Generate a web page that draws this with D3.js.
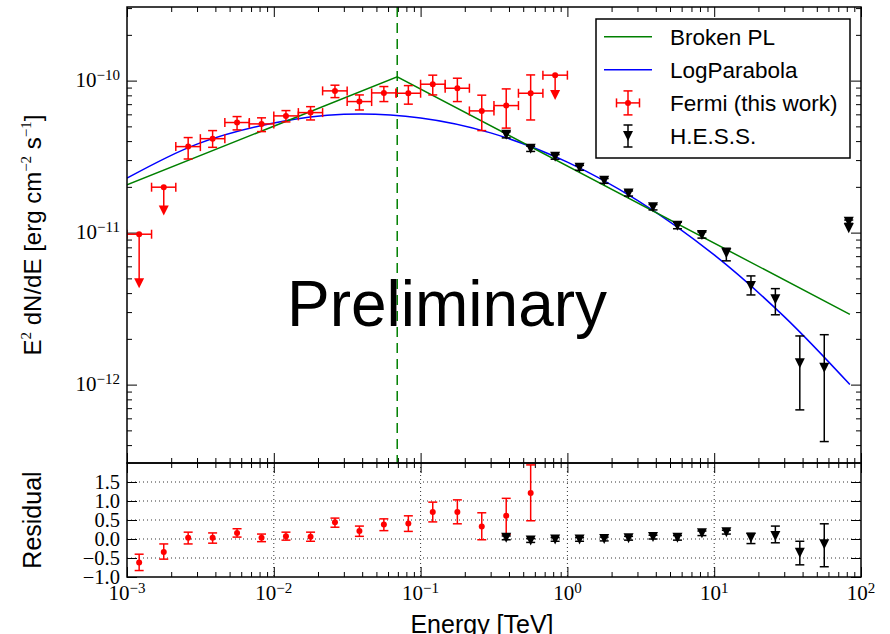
<!DOCTYPE html>
<html>
<head>
<meta charset="utf-8">
<script src="https://cdn.jsdelivr.net/npm/d3@7"></script>
<style>
  body { margin: 0; background: #fff; }
  svg { display: block; }
  .tick line { stroke: #000; stroke-width: 1; }
</style>
</head>
<body>
<div id="chart"></div>
<script>
// ---- Fermi-LAT points (this work), energies in TeV, E^2 dN/dE in erg cm-2 s-1
var fermiE = [1.21e-3, 1.78e-3, 2.61e-3, 3.83e-3, 5.62e-3, 8.25e-3, 1.21e-2, 1.78e-2, 2.61e-2,
  3.83e-2, 5.62e-2, 8.25e-2, 0.121, 0.178, 0.261, 0.383, 0.562, 0.825];
var fermiEdges = [1.0e-3, 1.47e-3, 2.15e-3, 3.16e-3, 4.64e-3, 6.81e-3, 1.0e-2, 1.47e-2, 2.15e-2, 3.16e-2,
  4.64e-2, 6.81e-2, 0.1, 0.147, 0.215, 0.316, 0.464, 0.681, 1.0];
var fermiF = [9.76e-12, 1.99e-11, 3.68e-11, 4.15e-11, 5.30e-11, 5.19e-11, 5.86e-11, 6.16e-11, 8.56e-11,
  7.28e-11, 8.30e-11, 8.26e-11, 9.47e-11, 8.91e-11, 6.32e-11, 6.85e-11, 8.26e-11, 1.086e-10];
var fermiLo = [4.65e-12, 1.40e-11, 3.05e-11, 3.64e-11, 4.74e-11, 4.62e-11, 5.35e-11, 5.51e-11, 7.73e-11,
  6.41e-11, 7.28e-11, 7.00e-11, 8.05e-11, 7.28e-11, 4.69e-11, 4.87e-11, 5.51e-11, 8.05e-11];
var fermiHi = [9.76e-12, 1.99e-11, 4.22e-11, 4.69e-11, 5.80e-11, 5.69e-11, 6.35e-11, 6.74e-11, 9.33e-11,
  8.05e-11, 9.14e-11, 9.27e-11, 1.086e-10, 1.037e-10, 8.02e-11, 8.82e-11, 1.09e-10, 1.086e-10];
var fermiUL = [1, 1, 0, 0, 0, 0, 0, 0, 0, 0, 0, 0, 0, 0, 0, 0, 0, 1];

// ---- H.E.S.S. points
var hessE = [0.383, 0.562, 0.825, 1.21, 1.78, 2.61, 3.83, 5.62, 8.25, 12.1, 17.8, 26.1, 38.3, 56.2, 82.5];
var hessF = [4.40e-11, 3.56e-11, 3.15e-11, 2.67e-11, 2.19e-11, 1.81e-11, 1.47e-11, 1.11e-11, 9.66e-12,
  7.31e-12, 4.46e-12, 3.65e-12, 1.38e-12, 1.29e-12, 1.18e-11];
var hessLo = [4.20e-11, 3.42e-11, 3.04e-11, 2.57e-11, 2.11e-11, 1.74e-11, 1.41e-11, 1.06e-11, 9.20e-12,
  6.52e-12, 3.89e-12, 2.88e-12, 6.82e-13, 4.22e-13, 1.15e-11];
var hessHi = [4.60e-11, 3.70e-11, 3.26e-11, 2.77e-11, 2.27e-11, 1.88e-11, 1.53e-11, 1.17e-11, 1.01e-11,
  7.89e-12, 5.19e-12, 4.28e-12, 2.09e-12, 2.13e-12, 1.21e-11];
var hessExtraE = [82.5];
var hessExtraF = [1.07e-11];

// ---- residuals
var fermiRes = [-0.62, -0.34, 0.03, 0.03, 0.16, 0.03, 0.07, 0.06, 0.44, 0.21, 0.38, 0.41, 0.71, 0.71, 0.33, 0.61, 1.21];
var fermiResLo = [-0.83, -0.53, -0.13, -0.11, 0.05, -0.07, -0.03, -0.06, 0.31, 0.07, 0.22, 0.20, 0.45, 0.40, -0.02, 0.12, 0.48];
var fermiResHi = [-0.40, -0.13, 0.18, 0.16, 0.27, 0.13, 0.18, 0.18, 0.55, 0.34, 0.53, 0.61, 0.97, 1.03, 0.69, 1.07, 1.95];
var hessRes = [0.03, -0.04, -0.01, -0.01, 0.0, 0.02, 0.05, 0.03, 0.15, 0.18, 0.03, 0.08, -0.36, -0.14];
var hessResLo = [-0.02, -0.09, -0.06, -0.06, -0.05, -0.03, 0.0, -0.03, 0.09, 0.13, -0.12, -0.10, -0.68, -0.73];
var hessResHi = [0.08, 0.01, 0.04, 0.04, 0.05, 0.07, 0.10, 0.09, 0.21, 0.23, 0.15, 0.34, -0.06, 0.40];

// ---- model curves
var bplE = [1e-3, 0.0693, 84];
var bplF = [2.06e-11, 1.06e-10, 2.90e-12];
var breakE = 0.0693;
var lpE = [1e-3, 3e-3, 1e-2, 3e-2, 0.1, 0.3, 1, 3, 10, 30, 84];
var lpF = [2.28e-11, 3.82e-11, 5.26e-11, 6.0e-11, 5.68e-11, 4.53e-11, 2.91e-11, 1.63e-11, 7.13e-12, 2.80e-12, 1.0e-12];

// ---- axis ticks
var xDecades = [-3, -2, -1, 0, 1, 2];
var yDecades = [-12, -11, -10];
var resTicks = [-1.0, -0.5, 0.0, 0.5, 1.0, 1.5];
var resGrid = [-0.5, 0.0, 0.5, 1.0, 1.5];

var width = 890, height = 634;
var pLeft = 127, pRight = 861, pTop = 7, pSplit = 463, pBottom = 577;
var sans = "'Liberation Sans', Arial, sans-serif";
var serif = "'Liberation Serif', 'Times New Roman', serif";

var svg = d3.select('#chart').append('svg')
  .attr('width', width)
  .attr('height', height);

var x = d3.scaleLog().domain([1e-3, 1e2]).range([pLeft, pRight]);
var y = d3.scaleLog().domain([3.05e-13, 3.05e-10]).range([pSplit, pTop]);
var yr = d3.scaleLinear().domain([-1, 2]).range([pBottom, pSplit]);

function isDecade(v) {
  var l = Math.log10(v);
  return Math.abs(l - Math.round(l)) < 1e-6;
}
var xMajor = xDecades.map(function(d) { return Math.pow(10, d); });
var xMinor = x.ticks().filter(function(v) { return !isDecade(v); });
var yMajor = yDecades.map(function(d) { return Math.pow(10, d); });
var yMinor = y.ticks().filter(function(v) { return !isDecade(v); });

svg.append('defs').append('clipPath').attr('id', 'clipTop')
  .append('rect').attr('x', pLeft).attr('y', pTop)
  .attr('width', pRight - pLeft).attr('height', pSplit - pTop);
svg.select('defs').append('clipPath').attr('id', 'clipRes')
  .append('rect').attr('x', pLeft).attr('y', pSplit)
  .attr('width', pRight - pLeft).attr('height', pBottom - pSplit);

// residual grid
var grid = svg.append('g').attr('stroke', '#000').attr('stroke-width', 1)
  .attr('stroke-dasharray', '1,3').attr('opacity', 0.8);
grid.selectAll('line.h').data(resGrid).enter().append('line')
  .attr('x1', pLeft).attr('x2', pRight)
  .attr('y1', function(d) { return yr(d); }).attr('y2', function(d) { return yr(d); });
grid.selectAll('line.v').data(xMajor.slice(1, -1)).enter().append('line')
  .attr('y1', pSplit).attr('y2', pBottom)
  .attr('x1', function(d) { return x(d); }).attr('x2', function(d) { return x(d); });

// ticks (pointing inwards on all four sides)
function addAxis(axis, tx, ty) {
  var g = svg.append('g').attr('transform', 'translate(' + tx + ',' + ty + ')').call(axis);
  g.select('.domain').remove();
  g.selectAll('text').remove();
}
function xAxes(yPos, dirAxis) {
  addAxis(dirAxis(x).tickValues(xMajor).tickSizeInner(-10).tickSizeOuter(0), 0, yPos);
  addAxis(dirAxis(x).tickValues(xMinor).tickSizeInner(-5).tickSizeOuter(0), 0, yPos);
}
xAxes(pTop, d3.axisTop);
xAxes(pSplit, d3.axisBottom);
xAxes(pSplit, d3.axisTop);
xAxes(pBottom, d3.axisBottom);
addAxis(d3.axisLeft(y).tickValues(yMajor).tickSizeInner(-10).tickSizeOuter(0), pLeft, 0);
addAxis(d3.axisLeft(y).tickValues(yMinor).tickSizeInner(-5).tickSizeOuter(0), pLeft, 0);
addAxis(d3.axisRight(y).tickValues(yMajor).tickSizeInner(-10).tickSizeOuter(0), pRight, 0);
addAxis(d3.axisRight(y).tickValues(yMinor).tickSizeInner(-5).tickSizeOuter(0), pRight, 0);
addAxis(d3.axisLeft(yr).tickValues(resTicks).tickSizeInner(-10).tickSizeOuter(0), pLeft, 0);
addAxis(d3.axisRight(yr).tickValues(resTicks).tickSizeInner(-10).tickSizeOuter(0), pRight, 0);

// tick labels
function powLabel(sel) {
  sel.append('tspan').attr('font-size', 21).text('10');
  sel.append('tspan').attr('font-size', 15).attr('dy', -7)
    .text(function(d) { return String(d).replace('-', '\u2212'); });
}
svg.selectAll('text.ylab').data(yDecades).enter().append('text')
  .attr('class', 'ylab')
  .attr('x', pLeft - 7)
  .attr('y', function(d) { return y(Math.pow(10, d)) + 6; })
  .attr('text-anchor', 'end').attr('font-family', serif).attr('fill', '#000')
  .call(powLabel);
svg.selectAll('text.xlab').data(xDecades).enter().append('text')
  .attr('class', 'xlab')
  .attr('x', function(d) { return x(Math.pow(10, d)); })
  .attr('y', pBottom + 23)
  .attr('text-anchor', 'middle').attr('font-family', serif).attr('fill', '#000')
  .call(powLabel);
svg.selectAll('text.rlab').data(resTicks).enter().append('text')
  .attr('class', 'rlab')
  .attr('x', pLeft - 7)
  .attr('y', function(d) { return yr(d) + 7; })
  .attr('text-anchor', 'end').attr('font-family', serif).attr('font-size', 20.5)
  .text(function(d) { return d.toFixed(1).replace('-', '\u2212'); });

// axis titles
var ylab = svg.append('text')
  .attr('transform', 'translate(41,' + ((pTop + pSplit) / 2) + ') rotate(-90)')
  .attr('text-anchor', 'middle').attr('font-family', sans).attr('font-size', 24);
ylab.append('tspan').text('E');
ylab.append('tspan').attr('font-family', serif).attr('font-size', 15).attr('dy', -10).text('2');
ylab.append('tspan').attr('dy', 10).text(' dN/dE [erg cm');
ylab.append('tspan').attr('font-family', serif).attr('font-size', 15).attr('dy', -10).text('\u22122');
ylab.append('tspan').attr('dy', 10).text(' s');
ylab.append('tspan').attr('font-family', serif).attr('font-size', 15).attr('dy', -10).text('\u22121');
ylab.append('tspan').attr('dy', 10).text(']');

svg.append('text')
  .attr('transform', 'translate(41,' + ((pSplit + pBottom) / 2) + ') rotate(-90)')
  .attr('text-anchor', 'middle').attr('font-family', sans).attr('font-size', 25)
  .text('Residual');
svg.append('text')
  .attr('x', 482).attr('y', 633)
  .attr('text-anchor', 'middle').attr('font-family', sans).attr('font-size', 25)
  .text('Energy [TeV]');

// ---- top panel content
var plot = svg.append('g').attr('clip-path', 'url(#clipTop)');

plot.append('line')
  .attr('x1', x(breakE)).attr('x2', x(breakE))
  .attr('y1', pTop).attr('y2', pSplit)
  .attr('stroke', '#008000').attr('stroke-width', 1.5).attr('stroke-dasharray', '10,6');

var line = d3.line()
  .x(function(d) { return x(d[0]); })
  .y(function(d) { return y(d[1]); });

plot.append('path')
  .datum(d3.zip(lpE, lpF))
  .attr('d', line.curve(d3.curveCatmullRom))
  .attr('fill', 'none').attr('stroke', '#0000ff').attr('stroke-width', 1.5);
plot.append('path')
  .datum(d3.zip(bplE, bplF))
  .attr('d', line.curve(d3.curveLinear))
  .attr('fill', 'none').attr('stroke', '#008000').attr('stroke-width', 1.5);

var cap = 4.5;
var tri = 'M-5,-5L5,-5L0,5Z';

// Fermi points
var fermi = fermiE.map(function(e, i) {
  return { e: e, f: fermiF[i], lo: fermiLo[i], hi: fermiHi[i],
    emin: fermiEdges[i], emax: fermiEdges[i + 1], ul: fermiUL[i] };
});
var fg = plot.selectAll('g.fermi').data(fermi).enter().append('g')
  .attr('class', 'fermi').attr('stroke', '#ff0000').attr('fill', '#ff0000').attr('stroke-width', 1.5);
fg.append('line')
  .attr('x1', function(d) { return x(d.emin); }).attr('x2', function(d) { return x(d.emax); })
  .attr('y1', function(d) { return y(d.f); }).attr('y2', function(d) { return y(d.f); });
fg.append('line')
  .attr('x1', function(d) { return x(d.emin); }).attr('x2', function(d) { return x(d.emin); })
  .attr('y1', function(d) { return y(d.f) - cap; }).attr('y2', function(d) { return y(d.f) + cap; });
fg.append('line')
  .attr('x1', function(d) { return x(d.emax); }).attr('x2', function(d) { return x(d.emax); })
  .attr('y1', function(d) { return y(d.f) - cap; }).attr('y2', function(d) { return y(d.f) + cap; });
fg.append('line')
  .attr('x1', function(d) { return x(d.e); }).attr('x2', function(d) { return x(d.e); })
  .attr('y1', function(d) { return y(d.hi); }).attr('y2', function(d) { return y(d.lo); });
fg.filter(function(d) { return !d.ul; }).each(function(d) {
  var g = d3.select(this);
  [d.lo, d.hi].forEach(function(v) {
    g.append('line').attr('x1', x(d.e) - cap).attr('x2', x(d.e) + cap)
      .attr('y1', y(v)).attr('y2', y(v));
  });
});
fg.filter(function(d) { return d.ul; }).append('path')
  .attr('stroke', 'none')
  .attr('transform', function(d) { return 'translate(' + x(d.e) + ',' + y(d.lo) + ')'; })
  .attr('d', tri);
fg.append('circle')
  .attr('cx', function(d) { return x(d.e); }).attr('cy', function(d) { return y(d.f); })
  .attr('r', 3).attr('stroke', 'none');

// H.E.S.S. points
var hess = hessE.map(function(e, i) {
  return { e: e, f: hessF[i], lo: hessLo[i], hi: hessHi[i] };
});
function drawHess(sel, sy) {
  sel.append('line')
    .attr('x1', function(d) { return x(d.e); }).attr('x2', function(d) { return x(d.e); })
    .attr('y1', function(d) { return sy(d.hi); }).attr('y2', function(d) { return sy(d.lo); });
  sel.each(function(d) {
    var g = d3.select(this);
    [d.lo, d.hi].forEach(function(v) {
      g.append('line').attr('x1', x(d.e) - cap).attr('x2', x(d.e) + cap)
        .attr('y1', sy(v)).attr('y2', sy(v));
    });
  });
  sel.append('path')
    .attr('stroke', 'none')
    .attr('transform', function(d) { return 'translate(' + x(d.e) + ',' + sy(d.f) + ')'; })
    .attr('d', tri);
}
plot.selectAll('g.hess').data(hess).enter().append('g')
  .attr('class', 'hess').attr('stroke', '#000').attr('fill', '#000').attr('stroke-width', 1.5)
  .call(drawHess, y);
plot.selectAll('path.hextra').data(d3.zip(hessExtraE, hessExtraF)).enter().append('path')
  .attr('class', 'hextra').attr('fill', '#000')
  .attr('transform', function(d) { return 'translate(' + x(d[0]) + ',' + y(d[1]) + ')'; })
  .attr('d', tri);

// ---- residual panel content
var res = svg.append('g').attr('clip-path', 'url(#clipRes)');
var fres = fermiRes.map(function(r, i) {
  return { e: fermiE[i], f: r, lo: fermiResLo[i], hi: fermiResHi[i] };
});
var rg = res.selectAll('g.fres').data(fres).enter().append('g')
  .attr('class', 'fres').attr('stroke', '#ff0000').attr('fill', '#ff0000').attr('stroke-width', 1.5);
rg.append('line')
  .attr('x1', function(d) { return x(d.e); }).attr('x2', function(d) { return x(d.e); })
  .attr('y1', function(d) { return yr(d.hi); }).attr('y2', function(d) { return yr(d.lo); });
rg.each(function(d) {
  var g = d3.select(this);
  [d.lo, d.hi].forEach(function(v) {
    g.append('line').attr('x1', x(d.e) - cap).attr('x2', x(d.e) + cap)
      .attr('y1', yr(v)).attr('y2', yr(v));
  });
});
rg.append('circle')
  .attr('cx', function(d) { return x(d.e); }).attr('cy', function(d) { return yr(d.f); })
  .attr('r', 3).attr('stroke', 'none');

var hres = hessRes.map(function(r, i) {
  return { e: hessE[i], f: r, lo: hessResLo[i], hi: hessResHi[i] };
});
res.selectAll('g.hres').data(hres).enter().append('g')
  .attr('class', 'hres').attr('stroke', '#000').attr('fill', '#000').attr('stroke-width', 1.5)
  .call(drawHess, yr);

// frames
[[pTop, pSplit], [pSplit, pBottom]].forEach(function(p) {
  svg.append('rect')
    .attr('x', pLeft).attr('y', p[0])
    .attr('width', pRight - pLeft).attr('height', p[1] - p[0])
    .attr('fill', 'none').attr('stroke', '#000').attr('stroke-width', 1.5);
});

// "Preliminary" stamp
svg.append('text')
  .attr('x', 447).attr('y', 326)
  .attr('text-anchor', 'middle').attr('font-family', sans).attr('font-size', 64)
  .text('Preliminary');

// ---- legend
var legendNames = ['Broken PL', 'LogParabola', 'Fermi (this work)', 'H.E.S.S.'];
var legend = svg.append('g').attr('transform', 'translate(596,19)');
legend.append('rect')
  .attr('width', 254).attr('height', 139)
  .attr('fill', '#fff').attr('stroke', '#000').attr('stroke-width', 1.5);
var rows = legend.selectAll('g.row').data(legendNames).enter().append('g')
  .attr('class', 'row')
  .attr('transform', function(d, i) { return 'translate(0,' + (17.7 + i * 33.1) + ')'; });
rows.append('text')
  .attr('x', 74).attr('y', 8)
  .attr('font-family', sans).attr('font-size', 22.5)
  .text(function(d) { return d; });
rows.filter(function(d, i) { return i < 2; }).append('line')
  .attr('x1', 8).attr('x2', 56).attr('y1', 0).attr('y2', 0)
  .attr('stroke-width', 1.5)
  .attr('stroke', function(d, i) { return i === 0 ? '#008000' : '#0000ff'; });
var fh = rows.filter(function(d, i) { return i === 2; })
  .attr('stroke', '#ff0000').attr('fill', '#ff0000').attr('stroke-width', 1.5);
fh.append('line').attr('x1', 20.5).attr('x2', 43.5).attr('y1', 0).attr('y2', 0);
fh.append('line').attr('x1', 32).attr('x2', 32).attr('y1', -12).attr('y2', 12);
fh.append('line').attr('x1', 20.5).attr('x2', 20.5).attr('y1', -cap).attr('y2', cap);
fh.append('line').attr('x1', 43.5).attr('x2', 43.5).attr('y1', -cap).attr('y2', cap);
fh.append('line').attr('x1', 32 - cap).attr('x2', 32 + cap).attr('y1', -12).attr('y2', -12);
fh.append('line').attr('x1', 32 - cap).attr('x2', 32 + cap).attr('y1', 12).attr('y2', 12);
fh.append('circle').attr('cx', 32).attr('r', 3).attr('stroke', 'none');
var hh = rows.filter(function(d, i) { return i === 3; })
  .attr('stroke', '#000').attr('fill', '#000').attr('stroke-width', 1.5);
hh.append('line').attr('x1', 32).attr('x2', 32).attr('y1', -11).attr('y2', 11);
hh.append('line').attr('x1', 32 - cap).attr('x2', 32 + cap).attr('y1', -11).attr('y2', -11);
hh.append('line').attr('x1', 32 - cap).attr('x2', 32 + cap).attr('y1', 11).attr('y2', 11);
hh.append('path').attr('stroke', 'none').attr('transform', 'translate(32,0)').attr('d', tri);
rows.selectAll('text').attr('stroke', 'none').attr('fill', '#000');
</script>
</body>
</html>
